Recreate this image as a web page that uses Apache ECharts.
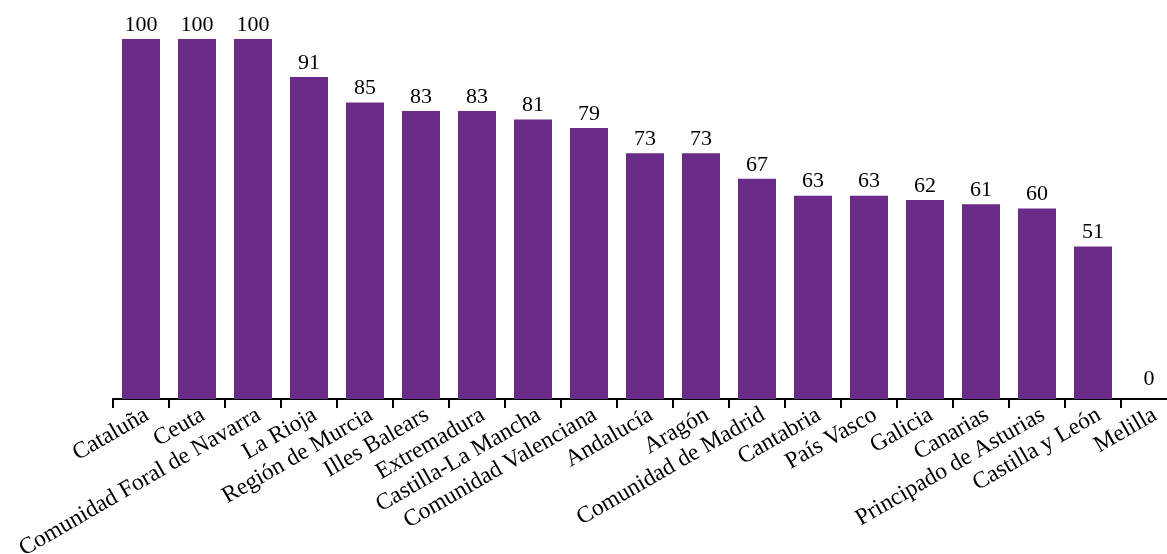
<!DOCTYPE html>
<html>
<head>
<meta charset="utf-8">
<script src="https://cdn.jsdelivr.net/npm/echarts@6/dist/echarts.min.js"></script>
<style>
  html, body { margin: 0; padding: 0; background: #ffffff; }
  #chart { width: 1167px; height: 554px; }
</style>
</head>
<body>
<div id="chart"></div>
<script>
const categories = [
  "Cataluña", "Ceuta", "Comunidad Foral de Navarra", "La Rioja", "Región de Murcia",
  "Illes Balears", "Extremadura", "Castilla-La Mancha", "Comunidad Valenciana", "Andalucía",
  "Aragón", "Comunidad de Madrid", "Cantabria", "País Vasco", "Galicia",
  "Canarias", "Principado de Asturias", "Castilla y León", "Melilla"
];
const values = [100, 100, 100, 91, 85, 83, 83, 81, 79, 73, 73, 67, 63, 63, 62, 61, 60, 51, 0];

const chart = echarts.init(document.getElementById('chart'), null, { renderer: 'canvas' });
const fontFamily = '"Liberation Serif", "DejaVu Serif", serif';

const seriesData = values.map(v => v === 0 ? { value: v, label: { distance: 9 } } : v);

chart.setOption({
  animation: false,
  backgroundColor: '#ffffff',
  grid: { left: 113, top: 39, width: 1064, height: 360, containLabel: false, outerBoundsMode: 'none' },
  xAxis: {
    type: 'category',
    data: categories,
    axisLine: { show: true, lineStyle: { color: '#000000', width: 2 } },
    axisTick: { show: true, alignWithLabel: false, length: 9, lineStyle: { color: '#000000', width: 2 } },
    axisLabel: {
      interval: 0,
      rotate: 30,
      margin: 4,
      verticalAlign: 'top',
      color: '#000000',
      fontFamily: fontFamily,
      fontSize: 23.5
    }
  },
  yAxis: {
    type: 'value',
    min: 15,
    max: 100,
    startValue: 15,
    show: false,
    splitLine: { show: false }
  },
  series: [{
    type: 'bar',
    data: seriesData,
    barWidth: 38,
    clip: true,
    itemStyle: { color: '#6a2a87' },
    label: {
      show: true,
      position: 'top',
      distance: 3,
      color: '#000000',
      fontFamily: fontFamily,
      fontSize: 22
    }
  }]
});
</script>
</body>
</html>
